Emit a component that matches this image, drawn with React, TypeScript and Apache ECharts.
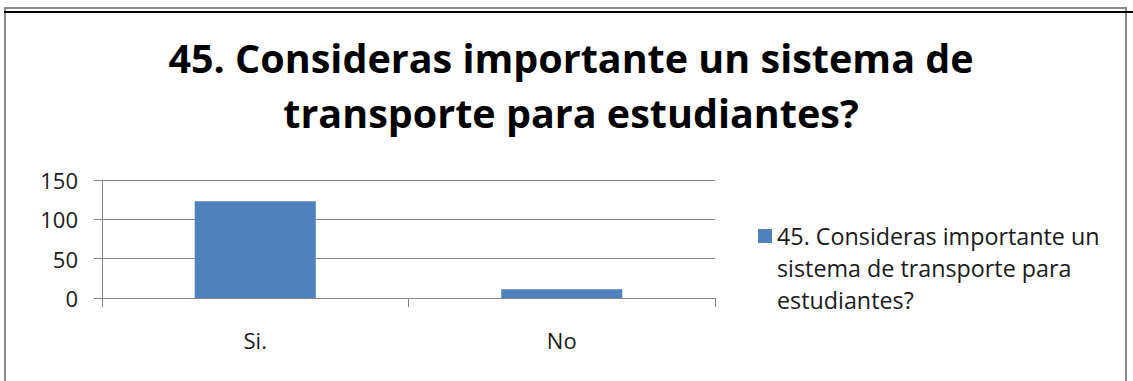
import React, { useEffect, useRef } from "react";
import * as echarts from "echarts";

const titleText = "45. Consideras importante un sistema de\ntransporte para estudiantes?";
const categories = ["Si.", "No"];
const seriesName = "45. Consideras importante un sistema de transporte para estudiantes?";
const legendLabel = "\n\n45. Consideras importante un\nsistema de transporte para\nestudiantes?";
const values = [123, 11];
const yTicks = { min: 0, max: 150, interval: 50 };

const FONT = "'Open Sans', 'Noto Sans', sans-serif";

export default function App() {
  const ref = useRef<HTMLDivElement>(null);
  useEffect(() => {
    if (!ref.current) return;
    const chart = echarts.init(ref.current, null, { renderer: "svg" });
    chart.setOption({
      animation: false,
      backgroundColor: "#ffffff",
      title: {
        text: titleText,
        left: 566,
        textAlign: "center",
        top: 25,
        textStyle: {
          fontFamily: FONT,
          fontWeight: "bold",
          fontSize: 39.5,
          lineHeight: 55,
          color: "#000000",
        },
      },
      legend: {
        left: 753,
        top: 151,
        itemWidth: 14,
        itemHeight: 14,
        icon: "rect",
        formatter: () => legendLabel,
        textStyle: {
          fontFamily: FONT,
          fontSize: 23.3,
          lineHeight: 32,
          color: "#1a1a1a",
        },
        data: [seriesName],
      },
      grid: { left: 102, right: 418, top: 180, bottom: 83 },
      xAxis: {
        type: "category",
        data: categories,
        axisLine: { lineStyle: { color: "#868686", width: 1 } },
        axisTick: { show: true, length: 9, lineStyle: { color: "#868686" } },
        axisLabel: {
          margin: 31,
          fontFamily: FONT,
          fontSize: 22,
          color: "#1a1a1a",
        },
      },
      yAxis: {
        type: "value",
        min: yTicks.min,
        max: yTicks.max,
        interval: yTicks.interval,
        axisLine: { show: true, lineStyle: { color: "#868686", width: 1 } },
        axisTick: { show: true, length: 8, lineStyle: { color: "#868686" } },
        axisLabel: {
          margin: 24,
          fontFamily: FONT,
          fontSize: 22,
          color: "#1a1a1a",
        },
        splitLine: { lineStyle: { color: "#868686", width: 1 } },
      },
      series: [
        {
          name: seriesName,
          type: "bar",
          data: values,
          barWidth: "39.5%",
          itemStyle: { color: "#4F81BD" },
        },
      ],
      graphic: [
        {
          type: "rect",
          shape: { x: 5, y: 8, width: 1121, height: 400 },
          style: { fill: "none", stroke: "#8c8c8c", lineWidth: 2 },
          silent: true,
        },
        {
          type: "line",
          shape: { x1: 4, y1: 12, x2: 1133, y2: 12 },
          style: { stroke: "#000000", lineWidth: 2 },
          silent: true,
        },
      ],
    });
    return () => chart.dispose();
  }, []);
  return (
    <div
      ref={ref}
      style={{ position: "fixed", left: 0, top: 0, width: 1133, height: 381 }}
    />
  );
}
